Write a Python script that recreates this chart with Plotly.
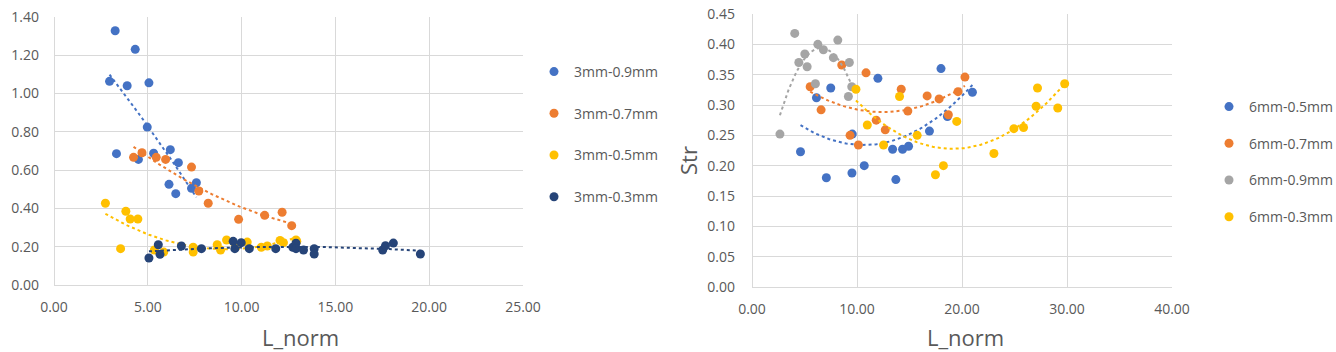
import numpy as np
import plotly.graph_objects as go

# ---------------- data: left chart (3mm) ----------------
x_3_09 = [3.26, 4.33, 2.96, 3.90, 5.06, 4.97, 3.33, 4.50, 5.31, 6.20, 6.63, 6.13, 6.49, 7.33, 7.59]
y_3_09 = [1.328, 1.231, 1.064, 1.041, 1.056, 0.825, 0.686, 0.656, 0.688, 0.707, 0.639, 0.526, 0.477, 0.505, 0.534]

x_3_07 = [4.24, 4.69, 5.45, 5.95, 7.33, 7.72, 8.22, 9.84, 11.23, 12.16, 12.67]
y_3_07 = [0.667, 0.691, 0.667, 0.656, 0.616, 0.491, 0.427, 0.343, 0.364, 0.380, 0.310]

x_3_05 = [2.74, 3.55, 3.83, 4.06, 4.47, 5.35, 5.85, 7.42, 7.42, 8.70, 8.88, 9.20, 9.66, 10.30,
          11.05, 11.37, 12.05, 12.23, 12.94, 12.90]
y_3_05 = [0.427, 0.190, 0.385, 0.345, 0.345, 0.183, 0.172, 0.197, 0.172, 0.210, 0.183, 0.235, 0.210, 0.224,
          0.197, 0.204, 0.233, 0.221, 0.228, 0.235]

x_3_03 = [5.06, 5.56, 5.65, 6.79, 7.86, 9.55, 9.64, 9.98, 10.41, 11.82, 12.73, 12.90, 12.90, 13.30,
          13.87, 13.87, 17.52, 17.67, 18.09, 19.53]
y_3_03 = [0.141, 0.210, 0.160, 0.204, 0.190, 0.228, 0.190, 0.221, 0.190, 0.190, 0.197, 0.218, 0.190, 0.183,
          0.190, 0.162, 0.183, 0.205, 0.219, 0.162]

# ---------------- data: right chart (6mm) ----------------
x_6_05 = [4.62, 6.14, 7.50, 11.99, 9.55, 10.69, 13.39, 14.34, 14.91, 16.90, 18.00, 18.61, 20.99, 7.08, 9.52, 13.70]
y_6_05 = [0.223, 0.312, 0.328, 0.344, 0.252, 0.200, 0.227, 0.227, 0.232, 0.257, 0.360, 0.281, 0.321, 0.180, 0.188, 0.177]

x_6_07 = [5.54, 6.58, 8.55, 9.34, 10.13, 10.86, 11.83, 12.69, 14.21, 14.84, 16.68, 17.82, 18.70, 19.62, 20.28]
y_6_07 = [0.330, 0.292, 0.366, 0.250, 0.234, 0.353, 0.275, 0.259, 0.326, 0.290, 0.315, 0.310, 0.284, 0.322, 0.346]

x_6_09 = [4.07, 2.66, 4.46, 5.03, 5.25, 6.27, 6.80, 7.75, 8.17, 9.27, 6.04, 9.18, 9.50]
y_6_09 = [0.418, 0.252, 0.370, 0.384, 0.363, 0.400, 0.391, 0.378, 0.407, 0.370, 0.335, 0.314, 0.330]

x_6_03 = [9.90, 10.98, 12.53, 14.05, 15.73, 17.47, 18.23, 19.50, 23.04, 24.94, 25.86, 27.19, 27.06, 29.12, 29.78]
y_6_03 = [0.326, 0.267, 0.234, 0.314, 0.250, 0.185, 0.200, 0.273, 0.220, 0.261, 0.263, 0.328, 0.298, 0.295, 0.335]

# ---------------- tick labels ----------------
left_x_ticks = [0, 5, 10, 15, 20, 25]
left_y_ticks = [0, 0.2, 0.4, 0.6, 0.8, 1.0, 1.2, 1.4]
right_x_ticks = [0, 10, 20, 30, 40]
right_y_ticks = [0, 0.05, 0.10, 0.15, 0.20, 0.25, 0.30, 0.35, 0.40, 0.45]

BLUE = "#4472C4"
ORANGE = "#ED7D31"
YELLOW = "#FFC000"
NAVY = "#264478"
GRAY = "#A5A5A5"
TXT = "#595959"
GRID = "#D9D9D9"
FONT = "Open Sans"

W, H = 1336, 352

fig = go.Figure()


def add_series(x, y, name, color, xa, ya, legend):
    fig.add_trace(go.Scatter(
        x=x, y=y, mode="markers", name=name,
        marker=dict(color=color, size=9, line=dict(width=0)),
        xaxis=xa, yaxis=ya, legend=legend, legendgroup=name,
    ))
    # polynomial (order 2) trendline like Excel
    c = np.polyfit(x, y, 2)
    xs = np.linspace(min(x), max(x), 80)
    fig.add_trace(go.Scatter(
        x=xs, y=np.polyval(c, xs), mode="lines", showlegend=False,
        line=dict(color=color, width=2, dash="dot"),
        xaxis=xa, yaxis=ya, legend=legend, legendgroup=name, hoverinfo="skip",
    ))


add_series(x_3_09, y_3_09, "3mm-0.9mm", BLUE, "x", "y", "legend")
add_series(x_3_07, y_3_07, "3mm-0.7mm", ORANGE, "x", "y", "legend")
add_series(x_3_05, y_3_05, "3mm-0.5mm", YELLOW, "x", "y", "legend")
add_series(x_3_03, y_3_03, "3mm-0.3mm", NAVY, "x", "y", "legend")

add_series(x_6_05, y_6_05, "6mm-0.5mm", BLUE, "x2", "y2", "legend2")
add_series(x_6_07, y_6_07, "6mm-0.7mm", ORANGE, "x2", "y2", "legend2")
add_series(x_6_09, y_6_09, "6mm-0.9mm", GRAY, "x2", "y2", "legend2")
add_series(x_6_03, y_6_03, "6mm-0.3mm", YELLOW, "x2", "y2", "legend2")

axis_common = dict(
    showgrid=True, gridcolor=GRID, gridwidth=1,
    zeroline=True, zerolinecolor=GRID, zerolinewidth=1,
    showline=False, ticks="", tickformat=".2f",
    tickfont=dict(family=FONT, size=14, color=TXT),
    tickmode="array", fixedrange=True, automargin=False,
)

fig.update_layout(
    width=W, height=H,
    margin=dict(l=0, r=0, t=0, b=0, autoexpand=False),
    paper_bgcolor="white", plot_bgcolor="white",
    font=dict(family=FONT, color=TXT),
    xaxis=dict(axis_common, domain=[54 / W, 523 / W], range=[0, 25], tickvals=left_x_ticks,
               anchor="y", ticklabelstandoff=12),
    yaxis=dict(axis_common, domain=[1 - 285 / H, 1 - 17 / H], range=[0, 1.4], tickvals=left_y_ticks,
               anchor="x", ticklabelstandoff=14),
    xaxis2=dict(axis_common, domain=[752 / W, 1172 / W], range=[0, 40], tickvals=right_x_ticks,
                anchor="y2", ticklabelstandoff=12),
    yaxis2=dict(axis_common, domain=[1 - 287 / H, 1 - 14 / H], range=[0, 0.45], tickvals=right_y_ticks,
                anchor="x2", ticklabelstandoff=16),
    legend=dict(x=534 / W, y=1 - 56 / H, xanchor="left", yanchor="top",
                font=dict(family=FONT, size=14, color=TXT), tracegroupgap=20.5,
                bgcolor="rgba(0,0,0,0)", itemclick=False, itemdoubleclick=False),
    legend2=dict(x=1209 / W, y=1 - 91 / H, xanchor="left", yanchor="top",
                 font=dict(family=FONT, size=14, color=TXT), tracegroupgap=15.5,
                 bgcolor="rgba(0,0,0,0)", itemclick=False, itemdoubleclick=False),
    showlegend=True,
    annotations=[
        dict(text="L_norm", x=300 / W, y=1 - 337 / H, xref="paper", yref="paper",
             xanchor="center", yanchor="middle",
             showarrow=False, font=dict(family=FONT, size=22, color=TXT)),
        dict(text="L_norm", x=965 / W, y=1 - 337 / H, xref="paper", yref="paper",
             xanchor="center", yanchor="middle",
             showarrow=False, font=dict(family=FONT, size=22, color=TXT)),
        dict(text="Str", x=688 / W, y=1 - 160 / H, xref="paper", yref="paper", textangle=-90,
             xanchor="center", yanchor="middle",
             showarrow=False, font=dict(family=FONT, size=22, color=TXT)),
    ],
)

fig.write_html("out.html")
